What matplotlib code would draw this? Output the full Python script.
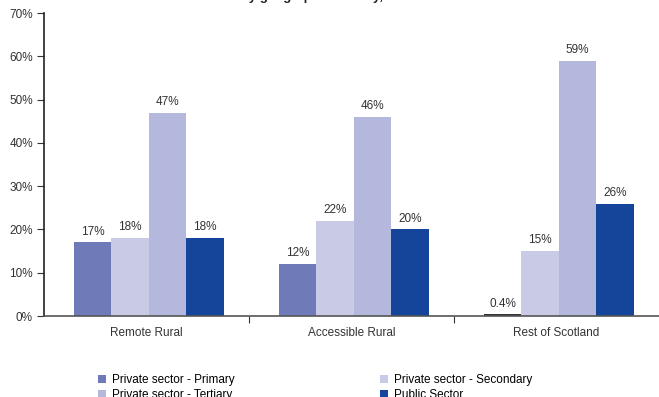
import numpy as np
import matplotlib.pyplot as plt
from matplotlib.patches import Patch

plt.rcParams['font.family'] = ['Liberation Sans', 'DejaVu Sans']

areas = ['Remote Rural', 'Accessible Rural', 'Rest of Scotland']
sectors = ['Private sector - Primary', 'Private sector - Secondary',
           'Private sector - Tertiary', 'Public Sector']
primary = [17, 12, 0.4]
secondary = [18, 22, 15]
tertiary = [47, 46, 59]
public = [18, 20, 26]
yticks = [0, 10, 20, 30, 40, 50, 60, 70]

colours = ['#6f7bb9', '#c8cae6', '#b4b8dd', '#15449b']
series = [primary, secondary, tertiary, public]

fig = plt.figure(figsize=(6.59, 3.97), dpi=100)
ax = fig.add_axes([0.0668, 0.204, 0.9332, 0.763])

x = np.arange(len(areas))
w = 0.183
for i, (vals, col) in enumerate(zip(series, colours)):
    pos = x + 0.012 + (i - 1.5) * w
    ax.bar(pos, vals, width=w, color=col, linewidth=0)
    for xp, v in zip(pos, vals):
        txt = '%.1f%%' % v if v < 1 else '%d%%' % v
        ax.text(xp, v + 1.1, txt, ha='center', va='bottom', fontsize=8.5, color='#333333')
        if v < 1:
            # tiny bar shows up as a dark sliver
            ax.bar(xp, v, width=w, color='#333333', linewidth=0)

ax.set_xlim(-0.5, 2.5)
ax.set_ylim(0, 70)
ax.set_yticks(yticks)
ax.set_yticklabels(['%d%%' % t for t in yticks], fontsize=8.5, color='#333333')
ax.tick_params(axis='y', length=5, width=0.8, color='#333333', pad=3)

ax.set_xticks(x)
ax.set_xticklabels(areas, fontsize=8.5, color='#333333')
ax.tick_params(axis='x', which='major', length=0, pad=8)
ax.set_xticks([0.5, 1.5], minor=True)
ax.tick_params(axis='x', which='minor', length=5, width=0.8, color='#333333')

for s in ['top', 'right']:
    ax.spines[s].set_visible(False)
ax.spines['left'].set_color('#222222')
ax.spines['left'].set_linewidth(1.2)
ax.spines['bottom'].set_color('#555555')
ax.spines['bottom'].set_linewidth(1.2)

# title sits mostly above the top edge
fig.text(0.004, 1.0005, 'Chart 4: Share of units in each sector by geographic locality, 2005',
         fontsize=9.5, fontweight='bold', va='baseline', ha='left', color='#222222')

order = [0, 2, 1, 3]
handles = [Patch(facecolor=colours[i], edgecolor='none') for i in order]
labels = [sectors[i] for i in order]
fig.legend(handles, labels, ncol=2, loc='upper left', bbox_to_anchor=(0.1487, 0.058),
           frameon=False, fontsize=8.5, handlelength=0.7, handleheight=0.7,
           handletextpad=0.5, labelspacing=0.25, columnspacing=12.3,
           borderpad=0, borderaxespad=0)

fig.savefig('out.png', dpi=100)
